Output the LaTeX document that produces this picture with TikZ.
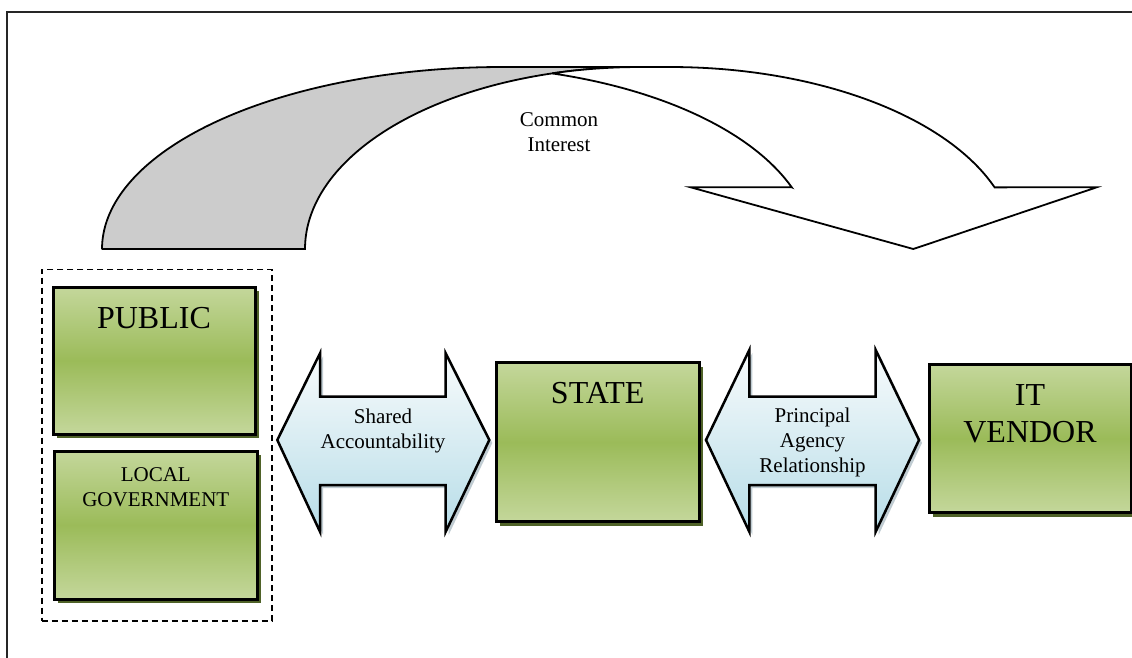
\documentclass[tikz,border=0pt]{standalone}
\usepackage{fontspec}
\setmainfont{Liberation Serif}
\usetikzlibrary{shadows}
\definecolor{boxlight}{RGB}{196,215,155}
\definecolor{boxdark}{RGB}{155,187,89}
\definecolor{boxshadow}{RGB}{79,98,40}
\definecolor{arrtop}{RGB}{248,251,252}
\definecolor{arrbot}{RGB}{183,221,232}
\definecolor{arrshadow}{RGB}{150,170,180}
\definecolor{bandgray}{RGB}{204,204,204}
\begin{document}
\begin{tikzpicture}[x=1pt,y=-1pt,
  greenbox/.style={draw=black, line width=3pt, inner sep=0pt,
    top color=boxlight, bottom color=boxlight, middle color=boxdark,
    drop shadow={fill=boxshadow, opacity=1, shadow xshift=4pt, shadow yshift=-4pt}},
  blockarrow/.style={draw=black, line width=2.5pt, line join=miter,
    top color=arrtop, bottom color=arrbot,
    drop shadow={fill=arrshadow, opacity=0.6, shadow xshift=3pt, shadow yshift=-3pt}},
  bandline/.style={draw=black, line width=1.8pt, line join=miter},
  smalltext/.style={font=\fontsize{21}{25}\selectfont, align=center, inner sep=0pt, anchor=base},
  bigtext/.style={font=\fontsize{32}{37.7}\selectfont, align=center, inner sep=0pt, anchor=base},
  groupbox/.style={draw=black, line width=1.6pt, dash pattern=on 6pt off 4pt, inner sep=0pt}
]
\path[use as bounding box, clip] (0,0) rectangle (1132,657);
\fill[white] (0,0) rectangle (1132,657);
% outer frame
\draw[line width=2pt, black!85] (7.3,700) -- (7.3,11.7) -- (1160,11.7);

% curved arrow: grey back band
\path[bandline, fill=bandgray] (101.7,249)
  -- plot[domain=180:90, samples=80] ({502+400*cos(\x)},{249-182*sin(\x)})
  -- (640,67)
  -- plot[domain=90:180, samples=80] ({640+335*cos(\x)},{249-182*sin(\x)})
  -- cycle;
% curved arrow: white front with head
\path[bandline, fill=white] (553,73.4)
  -- plot[domain=105.05:90, samples=20] ({640+335*cos(\x)},{249-182*sin(\x)})
  -- (670,67)
  -- plot[domain=90:19.8, samples=80] ({670+345*cos(\x)},{249-182*sin(\x)})
  -- (1096.7,187.3) -- (913.3,249) -- (690.7,187.3) -- (791.7,187.3)
  -- plot[domain=19.7:73.5, samples=80] ({450+363*cos(\x)},{249-183*sin(\x)})
  -- cycle;
\node[smalltext] (commonTxt) at (559,151.7) {Common\\Interest};

% dashed group
\node[groupbox, minimum width=230pt, minimum height=351.7pt] (group) at (156.7,445.2) {};

% boxes
\node[greenbox, minimum width=202pt, minimum height=147pt] (public) at (154,360.5) {};
\node[bigtext] (publicTxt) at (154,328.3) {PUBLIC};
\node[greenbox, minimum width=203pt, minimum height=148pt] (local) at (155.8,525) {};
\node[smalltext] (localTxt) at (155.8,506.7) {LOCAL\\GOVERNMENT};
\node[greenbox, minimum width=203.3pt, minimum height=159pt] (state) at (597.7,442.2) {};
\node[bigtext] (stateTxt) at (597.7,403.3) {STATE};
\node[greenbox, minimum width=202pt, minimum height=148.3pt] (vendor) at (1030,438.5) {};
\node[bigtext] (vendorTxt) at (1030,442.7) {IT\\VENDOR};

% double block arrows
\path[blockarrow] (277.3,440) -- (320,353.3) -- (320,396.7) -- (445.7,396.7) -- (445.7,353.3)
  -- (489.3,440) -- (445.7,531.7) -- (445.7,485) -- (320,485) -- (320,531.7) -- cycle;
\node[smalltext] (sharedTxt) at (383,448.3) {Shared\\Accountability};
\path[blockarrow] (706,440) -- (749.3,350) -- (749.3,396.7) -- (875.7,396.7) -- (875.7,350)
  -- (919,440) -- (875.7,531.7) -- (875.7,485) -- (749.3,485) -- (749.3,531.7) -- cycle;
\node[smalltext] (principalTxt) at (812.5,472.7) {Principal\\Agency\\Relationship};
\end{tikzpicture}
\end{document}
